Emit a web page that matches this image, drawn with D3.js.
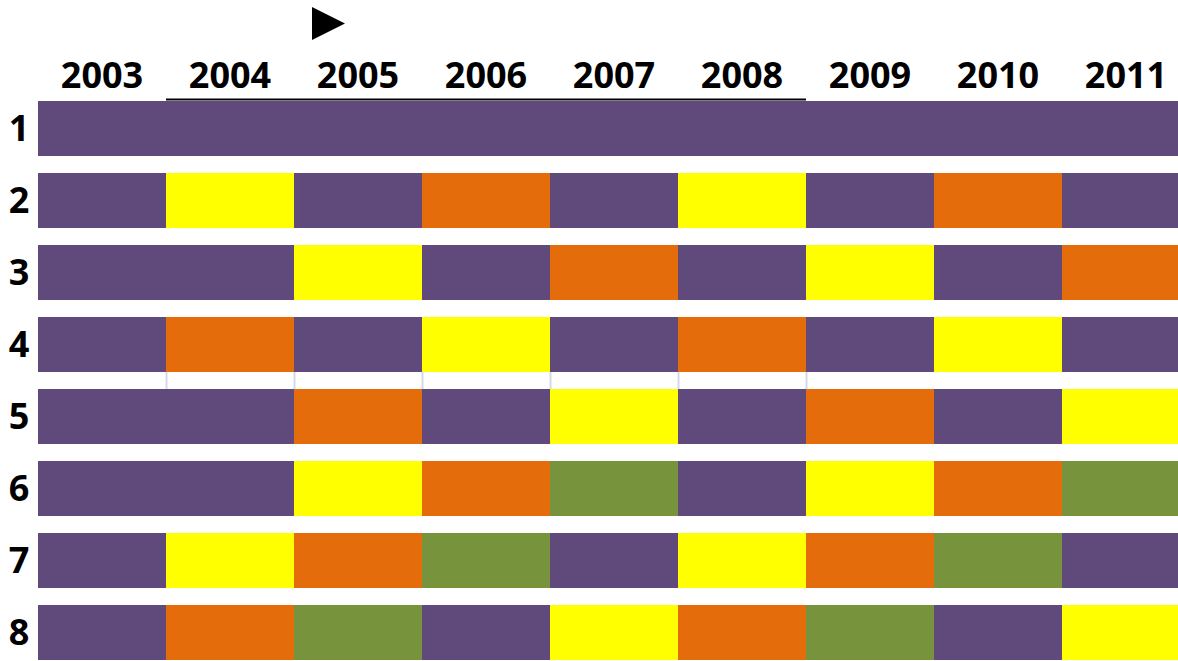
<!DOCTYPE html>
<html>
<head>
<meta charset="utf-8">
<script src="https://cdn.jsdelivr.net/npm/d3@7"></script>
<style>
  html, body { margin: 0; padding: 0; background: #fff; overflow: hidden; }
  svg { display: block; }
</style>
</head>
<body>
<svg id="chart" width="1178" height="661"></svg>
<script>
// ---- data ----
const years = ["2003","2004","2005","2006","2007","2008","2009","2010","2011"];
const rowLabels = ["1","2","3","4","5","6","7","8"];
// P = purple, Y = yellow, O = orange, G = green
const row1 = ["P","P","P","P","P","P","P","P","P"];
const row2 = ["P","Y","P","O","P","Y","P","O","P"];
const row3 = ["P","P","Y","P","O","P","Y","P","O"];
const row4 = ["P","O","P","Y","P","O","P","Y","P"];
const row5 = ["P","P","O","P","Y","P","O","P","Y"];
const row6 = ["P","P","Y","O","G","P","Y","O","G"];
const row7 = ["P","Y","O","G","P","Y","O","G","P"];
const row8 = ["P","O","G","P","Y","O","G","P","Y"];
const grid = [row1, row2, row3, row4, row5, row6, row7, row8];
const colorCodes = ["P","Y","O","G"];
const colorValues = ["#604A7B","#FFFF00","#E46C0A","#77933C"];
const markerYear = "2005";
const underlineFrom = "2004", underlineTo = "2008";
const gapLinesYears = ["2004","2005","2006","2007","2008","2009"];
const gapAfterRow = "4";

// ---- drawing ----
const svg = d3.select("#chart");
const x = d3.scaleBand().domain(years).range([38, 1190]).padding(0);
const y = d3.scaleBand().domain(rowLabels).range([101, 677])
  .paddingInner(0.236).paddingOuter(0.118).align(0);
const color = d3.scaleOrdinal().domain(colorCodes).range(colorValues);

const cells = [];
grid.forEach((r, i) => r.forEach((c, j) => cells.push({row: rowLabels[i], year: years[j], c})));

// faint grid lines between rows 4 and 5
const yA = y(gapAfterRow) + y.bandwidth();
const yB = y(rowLabels[rowLabels.indexOf(gapAfterRow) + 1]);
svg.append("g").selectAll("line").data(gapLinesYears).join("line")
  .attr("x1", d => x(d) + 0.5).attr("x2", d => x(d) + 0.5)
  .attr("y1", yA).attr("y2", yB)
  .attr("stroke", "#D3DAE6").attr("stroke-width", 2);

svg.append("g").selectAll("rect").data(cells).join("rect")
  .attr("x", d => x(d.year))
  .attr("y", d => y(d.row))
  .attr("width", x.bandwidth() + 0.5)
  .attr("height", y.bandwidth())
  .attr("fill", d => color(d.c));

// header line
svg.append("line")
  .attr("x1", x(underlineFrom)).attr("x2", x(underlineTo) + x.bandwidth())
  .attr("y1", y(rowLabels[0]) - 1.5).attr("y2", y(rowLabels[0]) - 1.5)
  .attr("stroke", "#000").attr("stroke-width", 2);

// year labels
svg.append("g").selectAll("text").data(years).join("text")
  .attr("x", d => x(d) + x.bandwidth() / 2)
  .attr("y", 88)
  .attr("text-anchor", "middle")
  .attr("font-family", "'Open Sans', sans-serif")
  .attr("font-weight", "bold")
  .attr("font-size", 36)
  .attr("fill", "#000")
  .text(d => d);

// row labels
svg.append("g").selectAll("text").data(rowLabels).join("text")
  .attr("x", 19)
  .attr("y", d => y(d) + y.bandwidth() / 2)
  .attr("dy", "0.36em")
  .attr("text-anchor", "middle")
  .attr("font-family", "'Open Sans', sans-serif")
  .attr("font-weight", "bold")
  .attr("font-size", 36)
  .attr("fill", "#000")
  .text(d => d);

// marker triangle
const tx = x(markerYear) + 18;
svg.append("path")
  .attr("d", d3.line()([[tx, 7], [tx + 33, 23.5], [tx, 40]]) + "Z")
  .attr("fill", "#000");
</script>
</body>
</html>
